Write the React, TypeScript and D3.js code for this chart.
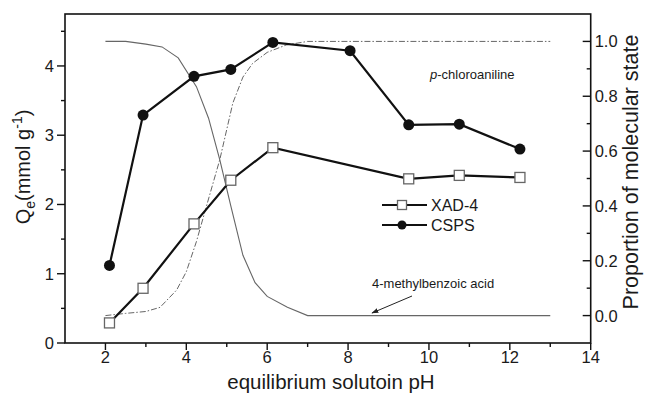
import React from "react";
import * as d3 from "d3";

const phCSPS = [2.1, 2.93, 4.19, 5.1, 6.14, 8.05, 9.5, 10.75, 12.25];
const qCSPS = [1.12, 3.29, 3.85, 3.95, 4.34, 4.22, 3.15, 3.16, 2.8];
const phXAD = [2.1, 2.93, 4.19, 5.1, 6.14, 9.5, 10.75, 12.25];
const qXAD = [0.29, 0.79, 1.72, 2.35, 2.82, 2.37, 2.42, 2.39];

const phAcid = [2.0, 2.5, 3.0, 3.4, 3.8, 4.25, 4.55, 4.83, 5.1, 5.4, 5.7, 6.0, 6.5, 7.0, 13.0];
const propAcid = [1.0, 1.0, 0.99, 0.98, 0.94, 0.835, 0.72, 0.567, 0.4, 0.22, 0.12, 0.07, 0.03, 0.0, 0.0];
const phAniline = [2.0, 2.5, 3.0, 3.35, 3.76, 4.0, 4.25, 4.5, 4.83, 5.15, 5.4, 5.64, 6.0, 6.47, 7.0, 13.0];
const propAniline = [0.0, 0.008, 0.015, 0.03, 0.093, 0.16, 0.27, 0.4, 0.57, 0.775, 0.87, 0.92, 0.96, 0.987, 1.0, 1.0];

const xMajor = [2, 4, 6, 8, 10, 12, 14];
const xMinor = [3, 5, 7, 9, 11, 13];
const yLMajor = [0, 1, 2, 3, 4];
const yLMinor = [0.5, 1.5, 2.5, 3.5, 4.5];
const yRMajor = [0, 0.2, 0.4, 0.6, 0.8, 1.0];
const yRMinor = [0.1, 0.3, 0.5, 0.7, 0.9];

const FONT = "'Liberation Sans', Arial, sans-serif";

export default function App() {
  const L = 65, R = 590.7, T = 14, B = 343;
  const x = d3.scaleLinear().domain([1, 14]).range([L, R]);
  const yL = d3.scaleLinear().domain([0, 4.75]).range([B, T]);
  const yR = d3.scaleLinear().domain([-0.1, 1.1]).range([B, T]);

  const lineL = d3.line<[number, number]>().x(d => x(d[0])).y(d => yL(d[1]));
  const lineR = d3.line<[number, number]>().x(d => x(d[0])).y(d => yR(d[1]));

  const csps = phCSPS.map((p, i) => [p, qCSPS[i]] as [number, number]);
  const xad = phXAD.map((p, i) => [p, qXAD[i]] as [number, number]);
  const acid = phAcid.map((p, i) => [p, propAcid[i]] as [number, number]);
  const anil = phAniline.map((p, i) => [p, propAniline[i]] as [number, number]);

  const txt = "#1a1a1a";

  return (
    <svg width={645} height={395} style={{ position: "fixed", left: 0, top: 0, background: "#fff" }} fontFamily={FONT}>
      <defs>
        <marker id="ah" viewBox="0 0 10 10" refX="9" refY="5" markerWidth="7" markerHeight="7" orient="auto-start-reverse">
          <path d="M0,1.5 L10,5 L0,8.5 z" fill="#222" />
        </marker>
      </defs>
      {/* proportion curves */}
      <path d={lineR(acid) || ""} fill="none" stroke="#666" strokeWidth={1.1} />
      <path d={lineR(anil) || ""} fill="none" stroke="#666" strokeWidth={1} strokeDasharray="6,2,1.5,2" />

      {/* series */}
      <path d={lineL(xad) || ""} fill="none" stroke="#111" strokeWidth={2.2} />
      <path d={lineL(csps) || ""} fill="none" stroke="#111" strokeWidth={2.2} />
      {xad.map((d, i) => (
        <rect key={"s" + i} x={x(d[0]) - 5} y={yL(d[1]) - 5} width={10} height={10} fill="#fff" stroke="#666" strokeWidth={1.3} />
      ))}
      {csps.map((d, i) => (
        <circle key={"c" + i} cx={x(d[0])} cy={yL(d[1])} r={5.5} fill="#111" />
      ))}

      {/* frame */}
      <rect x={L} y={T} width={R - L} height={B - T} fill="none" stroke="#111" strokeWidth={1.6} />

      {/* bottom axis */}
      {xMajor.map(v => (
        <g key={"xm" + v}>
          <line x1={x(v)} x2={x(v)} y1={B} y2={B + 7} stroke="#111" strokeWidth={1.4} />
          <text x={x(v)} y={B + 20} textAnchor="middle" fontSize={16.5} fill={txt}>{v}</text>
        </g>
      ))}
      {xMinor.map(v => (
        <line key={"xn" + v} x1={x(v)} x2={x(v)} y1={B} y2={B + 4} stroke="#111" strokeWidth={1.4} />
      ))}
      <text x={331} y={389} textAnchor="middle" fontSize={20.5} fill={txt}>equilibrium solutoin pH</text>

      {/* left axis */}
      {yLMajor.map(v => (
        <g key={"lm" + v}>
          <line x1={L - 8} x2={L} y1={yL(v)} y2={yL(v)} stroke="#111" strokeWidth={1.4} />
          <text x={L - 11} y={yL(v) + 6} textAnchor="end" fontSize={16.5} fill={txt}>{v}</text>
        </g>
      ))}
      {yLMinor.map(v => (
        <line key={"ln" + v} x1={L - 4} x2={L} y1={yL(v)} y2={yL(v)} stroke="#111" strokeWidth={1.4} />
      ))}
      <text transform={`translate(30,${167}) rotate(-90)`} textAnchor="middle" fontSize={20} fill={txt}>
        Q<tspan fontSize={14} dy={5}>e</tspan><tspan dy={-5}>(mmol g</tspan><tspan fontSize={14} dy={-8}>-1</tspan><tspan dy={8}>)</tspan>
      </text>

      {/* right axis */}
      {yRMajor.map(v => (
        <g key={"rm" + v}>
          <line x1={R - 8} x2={R} y1={yR(v)} y2={yR(v)} stroke="#111" strokeWidth={1.4} />
          <text x={R + 4} y={yR(v) + 6} textAnchor="start" fontSize={16.5} fill={txt}>{d3.format(".1f")(v)}</text>
        </g>
      ))}
      {yRMinor.map(v => (
        <line key={"rn" + v} x1={R - 4} x2={R} y1={yR(v)} y2={yR(v)} stroke="#111" strokeWidth={1.4} />
      ))}
      <text transform={`translate(638,${172}) rotate(-90)`} textAnchor="middle" fontSize={21.5} fill={txt}>Proportion of molecular state</text>

      {/* legend */}
      <g>
        <line x1={382} x2={427} y1={205} y2={205} stroke="#111" strokeWidth={2} />
        <rect x={402 - 4.5} y={205 - 4.5} width={9} height={9} fill="#fff" stroke="#666" strokeWidth={1.3} />
        <text x={431} y={211} fontSize={16} fill={txt}>XAD-4</text>
        <line x1={382} x2={427} y1={225} y2={225} stroke="#111" strokeWidth={2} />
        <circle cx={402} cy={225} r={4.5} fill="#111" />
        <text x={431} y={231} fontSize={16} fill={txt}>CSPS</text>
      </g>

      {/* annotations */}
      <text x={430} y={79} fontSize={13} fill={txt}><tspan fontStyle="italic">p</tspan>-chloroaniline</text>
      <text x={372} y={288} fontSize={13} fill={txt}>4-methylbenzoic acid</text>
      <line x1={412} y1={296} x2={372} y2={313} stroke="#222" strokeWidth={1} markerEnd="url(#ah)" />
    </svg>
  );
}
